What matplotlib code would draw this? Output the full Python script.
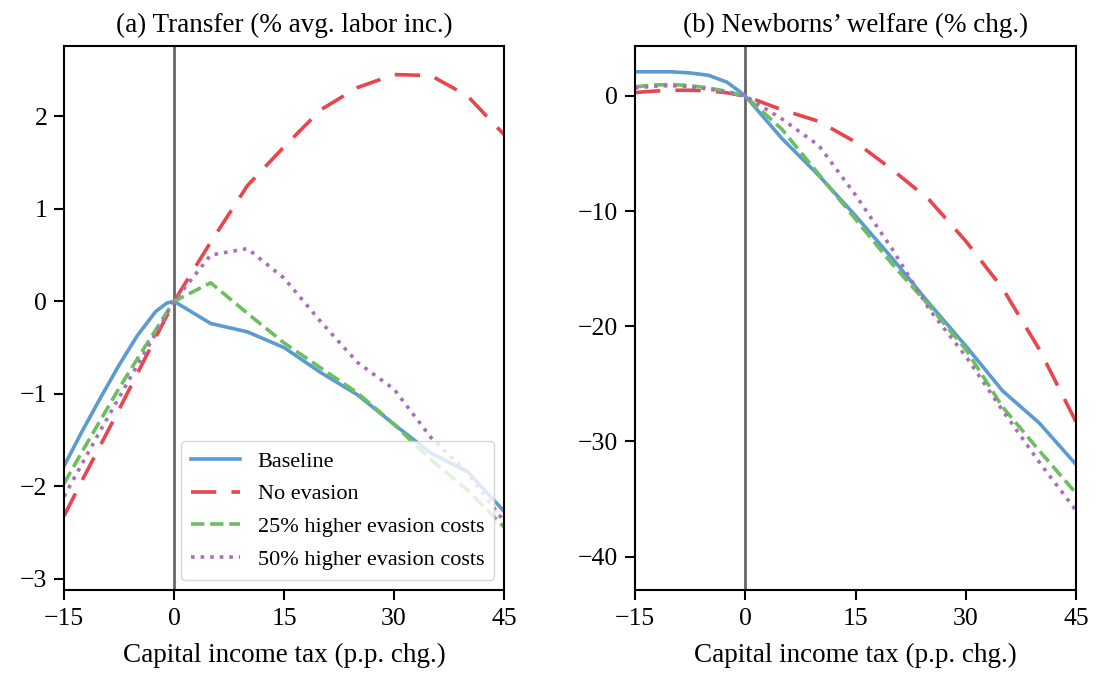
import matplotlib
matplotlib.use("Agg")
import matplotlib.pyplot as plt

# capital income tax change (p.p.)
tax = [-15, -12.5, -10, -7.5, -5, -2.5, -1, 0, 5, 10, 15, 20, 25, 30, 35, 40, 45]

# (a) transfer, % of avg. labor income
transfer_base = [-1.78, -1.40, -1.04, -0.69, -0.37, -0.11, -0.02, 0, -0.24, -0.33, -0.50, -0.77, -1.01, -1.33, -1.64, -1.84, -2.27]
transfer_noev = [-2.32, -1.93, -1.55, -1.17, -0.78, -0.39, -0.16, 0, 0.64, 1.25, 1.67, 2.07, 2.31, 2.45, 2.44, 2.22, 1.80]
transfer_25 = [-1.97, -1.62, -1.28, -0.94, -0.62, -0.31, -0.12, 0, 0.20, -0.13, -0.45, -0.72, -0.99, -1.33, -1.71, -2.04, -2.44]
transfer_50 = [-2.11, -1.75, -1.39, -1.04, -0.69, -0.35, -0.14, 0, 0.50, 0.57, 0.25, -0.22, -0.66, -0.95, -1.47, -1.85, -2.38]

# (b) newborns' welfare, % change
welfare_base = [2.1, 2.1, 2.1, 2.0, 1.8, 1.2, 0.5, 0, -3.7, -6.9, -10.4, -14.1, -18.0, -21.7, -25.6, -28.4, -32.0]
welfare_noev = [0.3, 0.42, 0.5, 0.5, 0.45, 0.28, 0.1, 0, -1.2, -2.2, -4.0, -6.4, -9.0, -12.6, -16.7, -22.0, -28.3]
welfare_25 = [0.8, 0.95, 1.0, 0.9, 0.7, 0.4, 0.15, 0, -2.9, -6.8, -10.7, -14.6, -18.2, -22.0, -27.0, -30.8, -34.5]
welfare_50 = [0.7, 0.85, 0.9, 0.8, 0.6, 0.35, 0.13, 0, -2.0, -4.3, -8.6, -13.3, -18.5, -22.6, -27.3, -31.8, -36.0]

labels = ["Baseline", "No evasion", "25% higher evasion costs", "50% higher evasion costs"]
colors = ["#5b9bd0", "#e8454c", "#6cbf5e", "#a96fba"]

plt.rcParams["font.family"] = ["Liberation Serif", "DejaVu Serif"]
plt.rcParams["font.size"] = 18.5
plt.rcParams["axes.linewidth"] = 1.5
plt.rcParams["xtick.major.width"] = 1.5
plt.rcParams["ytick.major.width"] = 1.5
plt.rcParams["xtick.major.size"] = 7
plt.rcParams["ytick.major.size"] = 7
plt.rcParams["xtick.major.pad"] = 6
plt.rcParams["ytick.major.pad"] = 5

fig = plt.figure(figsize=(10.96, 6.81), dpi=100)
ax1 = fig.add_axes([0.0584, 0.1336, 0.4016, 0.799])
ax2 = fig.add_axes([0.5794, 0.1336, 0.4024, 0.799])


def draw(ax, series):
    ax.axvline(0, color="#666666", lw=2, zorder=1)
    base, noev, c25, c50 = series
    ax.plot(tax, base, color=colors[0], lw=2.6, label=labels[0])
    ax.plot(tax, noev, color=colors[1], lw=2.6, dashes=(7, 4.2), label=labels[1])
    ax.plot(tax, c25, color=colors[2], lw=2.6, ls="--", label=labels[2])
    ax.plot(tax, c50, color=colors[3], lw=2.6, ls=":", label=labels[3])
    ax.set_xlim(-15, 45)
    ax.set_xticks([-15, 0, 15, 30, 45])
    ax.set_xlabel("Capital income tax (p.p. chg.)", fontsize=19.5, labelpad=9)


draw(ax1, [transfer_base, transfer_noev, transfer_25, transfer_50])
ax1.set_ylim(-3.12, 2.76)
ax1.set_yticks([-3, -2, -1, 0, 1, 2])
ax1.set_title("(a) Transfer (% avg. labor inc.)", fontsize=19.5, pad=10)
ax1.legend(loc="lower right", fontsize=16, handlelength=2.2, handletextpad=0.8,
           framealpha=0.8, borderpad=0.45, labelspacing=0.55, borderaxespad=0.45)

draw(ax2, [welfare_base, welfare_noev, welfare_25, welfare_50])
ax2.set_ylim(-42.9, 4.35)
ax2.set_yticks([-40, -30, -20, -10, 0])
ax2.set_title("(b) Newborns\u2019 welfare (% chg.)", fontsize=19.5, pad=10)

fig.savefig("out.png", dpi=100)
